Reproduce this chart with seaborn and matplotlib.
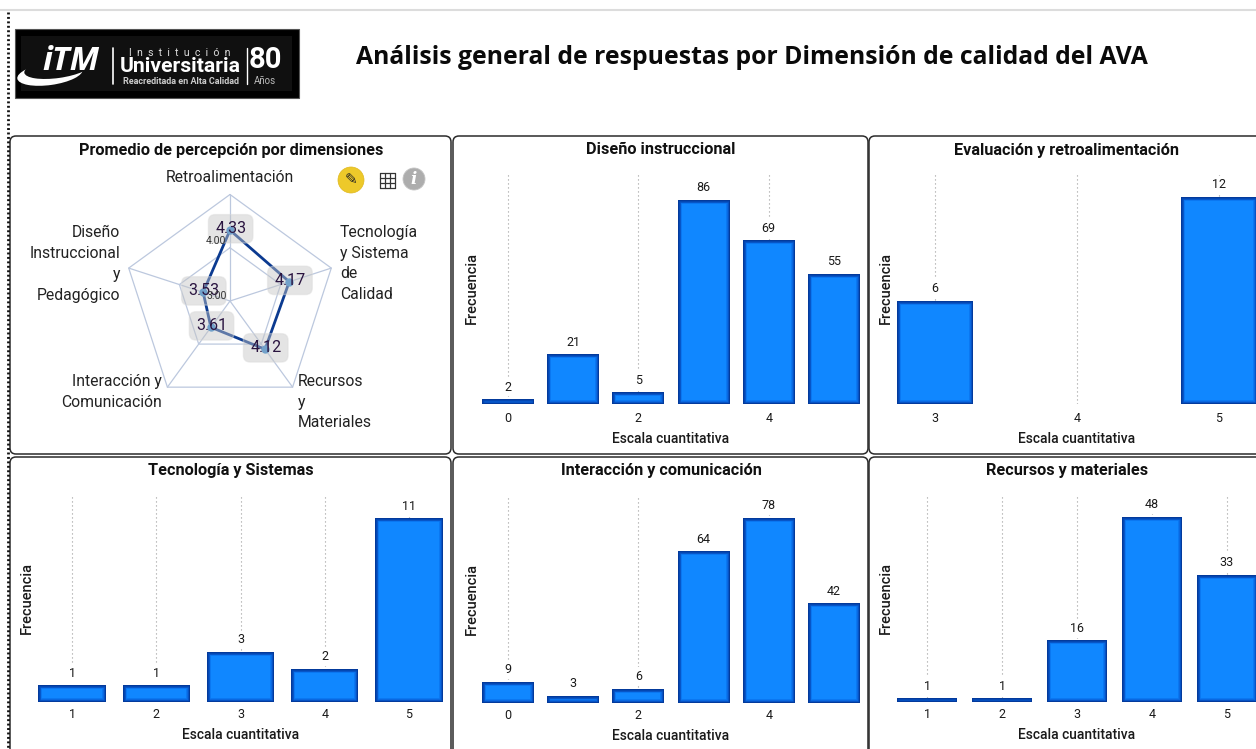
import numpy as np
import matplotlib
matplotlib.use("Agg")
import matplotlib.pyplot as plt
from matplotlib.patches import FancyBboxPatch, Rectangle, Circle, Ellipse
from matplotlib.patheffects import AbstractPathEffect
import seaborn as sns

# Radar data
radar_dims = ["Retroalimentación", "Tecnología\ny Sistema\nde\nCalidad", "Recursos\ny\nMateriales",
              "Interacción y\nComunicación", "Diseño\nInstruccional\ny\nPedagógico"]
radar_vals = [4.33, 4.17, 4.12, 3.61, 3.53]
radar_rings = [4.0, 5.0]
radar_min = 3.0

# Frequency data per dimension
dis_cat = ["0", "1", "2", "3", "4", "5"]
dis_val = [2, 21, 5, 86, 69, 55]
eva_cat = ["3", "4", "5"]
eva_val = [6, np.nan, 12]
tec_cat = ["1", "2", "3", "4", "5"]
tec_val = [1, 1, 3, 2, 11]
int_cat = ["0", "1", "2", "3", "4", "5"]
int_val = [9, 3, 6, 64, 78, 42]
rec_cat = ["1", "2", "3", "4", "5"]
rec_val = [1, 1, 16, 48, 33]

W, H = 1256, 749
sns.set_theme(style="white")
plt.rcParams["font.family"] = ["Roboto", "DejaVu Sans"]

fig = plt.figure(figsize=(W / 100, H / 100), dpi=100, facecolor="white")

# Full-figure canvas in pixel units for frames, header and icons
bg = fig.add_axes([0, 0, 1, 1], zorder=0)
bg.set_xlim(0, W)
bg.set_ylim(H, 0)
bg.axis("off")

top = fig.add_axes([0, 0, 1, 1], zorder=5)
top.set_xlim(0, W)
top.set_ylim(H, 0)
top.axis("off")
top.patch.set_alpha(0)


def px_axes(left, right, ytop, ybottom, **kw):
    return fig.add_axes([left / W, 1 - ybottom / H, (right - left) / W, (ybottom - ytop) / H], zorder=2, **kw)


class InnerEdge(AbstractPathEffect):
    """Strokes the outline without filling; used to layer a soft bevel inside a bar."""

    def __init__(self, width, color):
        super().__init__()
        self.width, self.color = width, color

    def draw_path(self, renderer, gc, tpath, affine, rgbFace=None):
        g = renderer.new_gc()
        g.copy_properties(gc)
        g.set_linewidth(self.width)
        g.set_foreground(self.color)
        renderer.draw_path(g, tpath, affine, None)
        g.restore()


class Fill(AbstractPathEffect):
    def draw_path(self, renderer, gc, tpath, affine, rgbFace=None):
        g = renderer.new_gc()
        g.copy_properties(gc)
        g.set_linewidth(0)
        renderer.draw_path(g, tpath, affine, rgbFace)
        g.restore()


BEVEL = [Fill(), InnerEdge(5.5, "#0b78f2"), InnerEdge(4.5, "#0a68e0"), InnerEdge(3.5, "#0858cc"),
         InnerEdge(2.5, "#0548b4"), InnerEdge(1.5, "#033a9c")]


def bar_panel(cats, vals, ticks, left, right, ytop, ybase, ymax, width, ylab_x, tick_pad=6, xlab_pad=5):
    ax = px_axes(left, right, ytop, ybase)
    ax.patch.set_alpha(0)
    sns.barplot(x=cats, y=vals, order=cats, color="#1087ff", saturation=1, width=width, ax=ax, zorder=3)
    ax.set_xlim(-0.5, len(cats) - 0.5)
    ax.set_ylim(0, ymax)
    ax.set_xticks(ticks, [cats[t] for t in ticks])
    ax.set_yticks([])
    ax.tick_params(axis="x", length=0, pad=tick_pad, labelsize=9, labelcolor="#1a1a1a")
    for t in ticks:
        ax.axvline(t, color="#9c9c9c", lw=0.8, ls=(0, (1, 2.6)), zorder=1)
    sns.despine(ax=ax, left=True, bottom=True)
    for c in ax.containers:
        for bar in c:
            bar.set_edgecolor("none")
            bar.set_clip_path(bar)
            bar.set_path_effects(BEVEL)
        for lab in ax.bar_label(c, padding=4, fontsize=9, color="#1a1a1a", fmt="%.0f"):
            lab.set_bbox(dict(fc="white", ec="none", pad=2))
    ax.set_xlabel("Escala cuantitativa", fontsize=10, color="#1a1a1a", labelpad=xlab_pad, fontweight="medium")
    ax.set_ylabel("Frecuencia", fontsize=10.5, color="#1a1a1a", fontweight="medium")
    ax.yaxis.set_label_coords((ylab_x - left) / (right - left), 0.5)
    return ax


bar_panel(dis_cat, dis_val, [0, 2, 4], 475.5, 866.5, 172, 404, 97.8, 0.8, 479)
bar_panel(eva_cat, eva_val, [0, 1, 2], 864, 1290, 172, 404, 13.45, 0.535, 893)
bar_panel(tec_cat, tec_val, [0, 1, 2, 3, 4], 30, 451, 495, 702, 12.4, 0.8, 34, tick_pad=4.5)
bar_panel(int_cat, int_val, [0, 2, 4], 475.5, 866.5, 495, 703, 87.7, 0.8, 479, tick_pad=4.5)
bar_panel(rec_cat, rec_val, [0, 1, 2, 3, 4], 889.5, 1264.5, 495, 702, 53.7, 0.8, 893, tick_pad=4.5)

# Panel frames and their titles
frames = [(10, 136, 441, 318), (453, 136, 415, 318), (869, 136, 420, 318),
          (10, 457, 441, 320), (453, 457, 415, 320), (869, 457, 420, 320)]
for x, y, w, h in frames:
    bg.add_patch(FancyBboxPatch((x + 5, y + 5), w - 10, h - 10, boxstyle="round,pad=5,rounding_size=6",
                                fc="white", ec="#2b2b2b", lw=1.1))

panel_titles = [("Promedio de percepción por dimensiones", 231, 150), ("Diseño instruccional", 661, 150),
                ("Evaluación y retroalimentación", 1067, 150), ("Tecnología y Sistemas", 231, 470),
                ("Interacción y comunicación", 661, 471), ("Recursos y materiales", 1067, 470)]
for txt, x, y in panel_titles:
    top.text(x, y, txt, ha="center", va="center", fontsize=11.7, fontweight="bold", color="#111111")

# Page header
bg.plot([0, W], [10, 10], color="#dcdcdc", lw=1.5)
bg.plot([7.5, 7.5], [12, H], color="#111111", lw=2, ls=(0, (0.7, 0.9)))
top.text(356, 58, "Análisis general de respuestas por Dimensión de calidad del AVA", ha="left", va="center",
         fontsize=17.85, fontweight="bold", color="#0a0a0a", family="Open Sans")

# Institution logo
bg.add_patch(Rectangle((15, 29), 284, 69, fc="#000000", ec="#555555", lw=0.8))
bg.add_patch(Rectangle((21, 36), 271, 55, fc="#101010", ec="none"))
top.add_patch(Ellipse((50, 74), 66, 22, angle=-8, fc="white", ec="none"))
top.add_patch(Ellipse((58, 68), 68, 20, angle=-8, fc="#101010", ec="none"))
top.text(71, 62, "iTM", color="white", fontsize=24, fontweight="bold", style="italic", ha="center", va="center", family="Open Sans")
top.plot([113, 113], [48, 84], color="white", lw=1.2)
top.plot([247, 247], [48, 84], color="white", lw=1)
top.text(180, 53, "I  n  s  t  i  t  u  c  i  ó  n", color="#dddddd", fontsize=7.6, ha="center", va="center")
top.text(180, 67, "Universitaria", color="white", fontsize=15.2, fontweight="bold", ha="center", va="center")
top.text(181, 82, "Reacreditada en Alta Calidad", color="#cccccc", fontsize=6.5, fontweight="bold", ha="center", va="center")
top.text(265, 60, "80", color="white", fontsize=21, fontweight="bold", ha="center", va="center")
top.text(265, 81, "Años", color="#bbbbbb", fontsize=7, ha="center", va="center")

# Radar chart
cx, cy, rad = 230, 301, 106.5
polar = fig.add_axes([(cx - rad) / W, 1 - (cy + rad) / H, 2 * rad / W, 2 * rad / H], projection="polar", zorder=3)
polar.patch.set_alpha(0)
polar.set_theta_zero_location("N")
polar.set_theta_direction(-1)
polar.set_ylim(radar_min, radar_rings[-1])
theta = np.linspace(0, 2 * np.pi, len(radar_vals), endpoint=False)
closed_theta = np.r_[theta, theta[0]]
for ring in radar_rings:
    polar.plot(closed_theta, [ring] * len(closed_theta), color="#bcc8de", lw=0.9, clip_on=False)
for t in theta:
    polar.plot([t, t], [radar_min, radar_rings[-1]], color="#bcc8de", lw=0.9, clip_on=False)
sns.lineplot(x=closed_theta, y=radar_vals + radar_vals[:1], sort=False, color="#0b3a90", lw=2, ax=polar,
             estimator=None, legend=False, clip_on=False, zorder=4)
sns.scatterplot(x=theta, y=radar_vals, color="#2f86d0", s=36, ax=polar, legend=False, clip_on=False, zorder=5, linewidth=0)
polar.axis("off")
for t, v in zip(theta, radar_vals):
    polar.annotate(f"{v:.2f}", (t, v), ha="center", va="center", fontsize=11.5, color="#2a1440", zorder=6,
                   xytext=(0.5, 1), textcoords="offset points",
                   bbox=dict(boxstyle="round,pad=0.42", fc="#c4c4c4", ec="#dadada", alpha=0.45))
for ring, tx, ty in [(4.0, 216, 241), (3.0, 217, 296)]:
    top.text(tx, ty, f"{ring:.2f}", fontsize=7.5, color="#333333", ha="center", va="center")

label_spots = [(230, 177, "center", "center"), (340, 263.5, "left", "center"), (298, 402, "left", "center"),
               (162, 392, "right", "center"), (120, 264, "right", "center")]
for dim, (x, y, ha, va) in zip(radar_dims, label_spots):
    top.text(x, y, dim, ha=ha, va=va, fontsize=11.3, color="#222222", linespacing=1.48, multialignment=ha)

# Visual toolbar icons
top.add_patch(Circle((351, 180), 13, fc="#edc92a", ec="#e0b820", lw=0.5))
top.text(351, 180, "\u270e", fontsize=11, color="#222222", ha="center", va="center", family="DejaVu Sans")
for gx in np.linspace(380, 395, 4):
    top.plot([gx, gx], [173, 188], color="#333333", lw=0.9)
for gy in np.linspace(173, 188, 4):
    top.plot([380, 395], [gy, gy], color="#333333", lw=0.9)
top.add_patch(Circle((414, 179), 11, fc="#adadad", ec="#c4c4c4", lw=0.6))
top.text(414, 179, "i", fontsize=12, color="white", fontweight="bold", style="italic", ha="center", va="center", family="DejaVu Serif")

fig.savefig("out.png", dpi=100)
